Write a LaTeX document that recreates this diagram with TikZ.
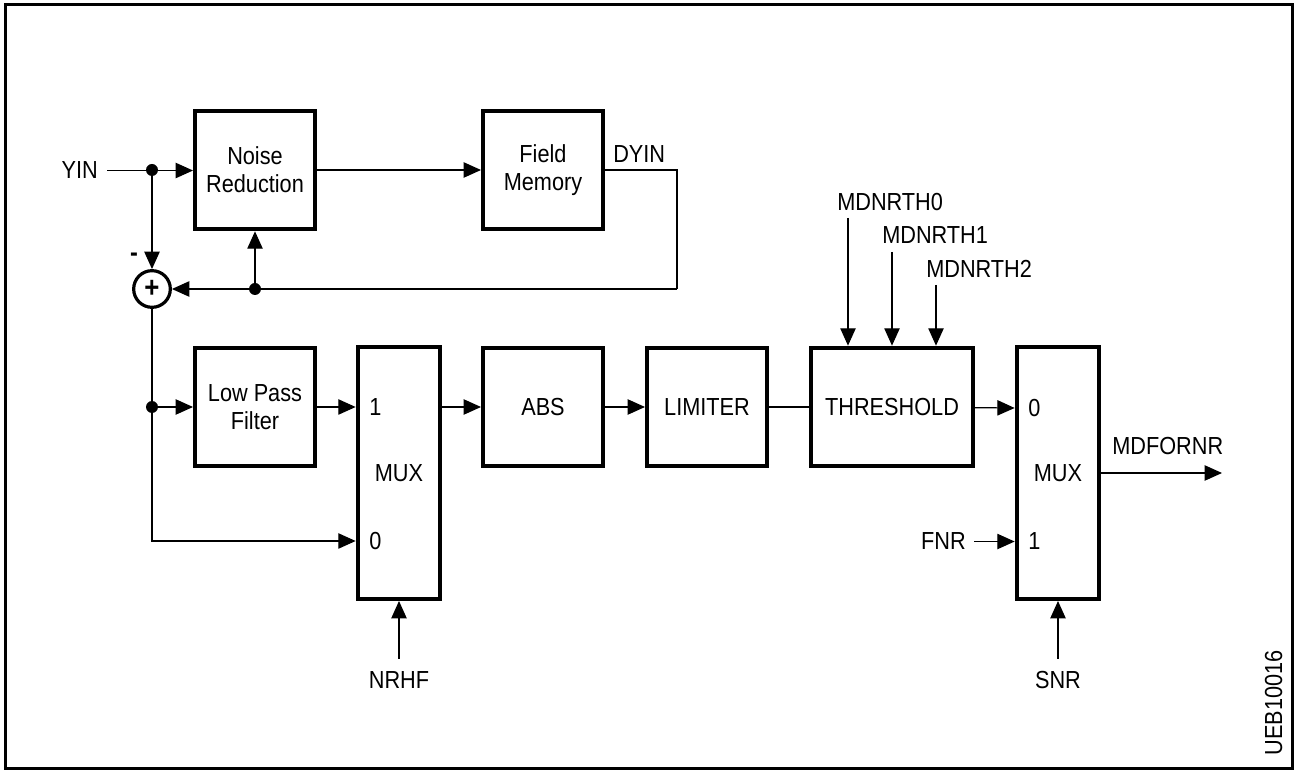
\documentclass[tikz,border=0pt]{standalone}
\usepackage{fontspec}
\setmainfont{Liberation Sans}[FakeStretch=0.88]
\usetikzlibrary{arrows.meta,calc,positioning}

\begin{document}
\begin{tikzpicture}[
  x=0.75pt,y=-0.75pt,font=\fontsize{18.5}{21}\selectfont,
  flow/.style={-{Triangle[length=13pt,width=11.5pt]},line width=0.9pt},
  wire/.style={line width=0.9pt},
  box/.style={draw,line width=3pt,minimum width=90pt,minimum height=89pt,
    align=center,inner sep=2pt},
  muxbox/.style={box,minimum width=62pt,minimum height=189pt},
  sumnode/.style={draw,circle,line width=2.4pt,minimum size=27.5pt,inner sep=0pt,
    font=\fontsize{22}{22}\selectfont\bfseries},
  lbl/.style={inner sep=0pt},
  dot/.style={circle,fill,inner sep=0pt,minimum size=9pt}
]
\useasboundingbox (0,0) rectangle (1297,773);
\draw[line width=2.25pt] (5,5) rectangle (1292,768);

% upper loop: noise reduction and field memory
\node[box] (nr) at (255,170) {Noise\\Reduction};
\node[box] (fm) at (543,170) {Field\\Memory};
\node[sumnode] (sum) at (152,289) {+};
\node[lbl,font=\fontsize{20}{20}\selectfont\bfseries] (minus) at (134,257) {-};

% lower path
\node[box] (lpf) at (255,407) {Low Pass\\Filter};
\node[muxbox] (mux1) at (399,473) {};
\node[box] (abs) at (543,407) {ABS};
\node[box] (lim) at (707,407) {LIMITER};
\node[box,minimum width=121.5pt] (thr) at (892,407) {THRESHOLD};
\node[muxbox] (mux2) at (1058,473) {};

\node[lbl,anchor=west] (m1one) at (369,407) {1};
\node[lbl] (m1name) at (399,473) {MUX};
\node[lbl,anchor=west] (m1zero) at (369,541) {0};
\node[lbl,anchor=west] (m2zero) at (1028,408) {0};
\node[lbl] (m2name) at (1058,473) {MUX};
\node[lbl,anchor=west] (m2one) at (1028,541) {1};

% signal names
\node[lbl,anchor=base east] (yin) at (98,179) {YIN};
\node[lbl,anchor=base west] (dyin) at (613,163) {DYIN};
\node[lbl,anchor=base west] (th0) at (837,211) {MDNRTH0};
\node[lbl,anchor=base west] (th1) at (882,244) {MDNRTH1};
\node[lbl,anchor=base west] (th2) at (926,278) {MDNRTH2};
\node[lbl,anchor=base] (nrhf) at (399,688) {NRHF};
\node[lbl,anchor=base] (snr) at (1058,688) {SNR};
\node[lbl,anchor=base east] (fnr) at (966,550) {FNR};
\node[lbl,anchor=base west] (mdfornr) at (1112,455) {MDFORNR};
\node[lbl,anchor=base,rotate=90] (ueb) at (1282,703) {UEB10016};

\coordinate (j1) at (152,170);
\coordinate (j2) at (255,289);
\coordinate (j3) at (152,407);
\coordinate (fbc) at (677,289);
\coordinate (th0in) at (848,218);
\coordinate (th1in) at (892,252);
\coordinate (th2in) at (936,285);
\coordinate (out) at (1222,473);

\draw[flow,shorten <=6.75pt] (yin.east) -- (yin.east -| nr.west);
\draw[flow] (j1) -- (sum);
\draw[flow] (nr) -- (fm);
\draw[wire] (fm.east) -| (fbc);
\draw[flow] (fbc) -- (sum);
\draw[flow] (j2) -- (nr);
\draw[wire] (sum) -- (j3);
\draw[flow] (j3) |- (mux1.west |- m1zero);
\draw[flow] (j3) -- (lpf);
\draw[flow] (lpf) -- (mux1.west |- m1one);
\draw[flow] (mux1.east |- abs) -- (abs);
\draw[flow] (abs) -- (lim);
\draw[wire] (lim) -- (thr);
\draw[flow] (thr) -- (mux2.west |- m2zero);
\draw[flow,shorten <=6pt] (fnr.east) -- (fnr.east -| mux2.west);
\draw[flow,shorten <=9pt] (nrhf.north) -- (nrhf.north |- mux1.south);
\draw[flow,shorten <=9pt] (snr.north) -- (snr.north |- mux2.south);
\draw[flow] (th0in) -- (th0in |- thr.north);
\draw[flow] (th1in) -- (th1in |- thr.north);
\draw[flow] (th2in) -- (th2in |- thr.north);
\draw[flow] (mux2) -- (out);

\foreach \j in {j1,j2,j3} \node[dot] at (\j) {};
\end{tikzpicture}
\end{document}
